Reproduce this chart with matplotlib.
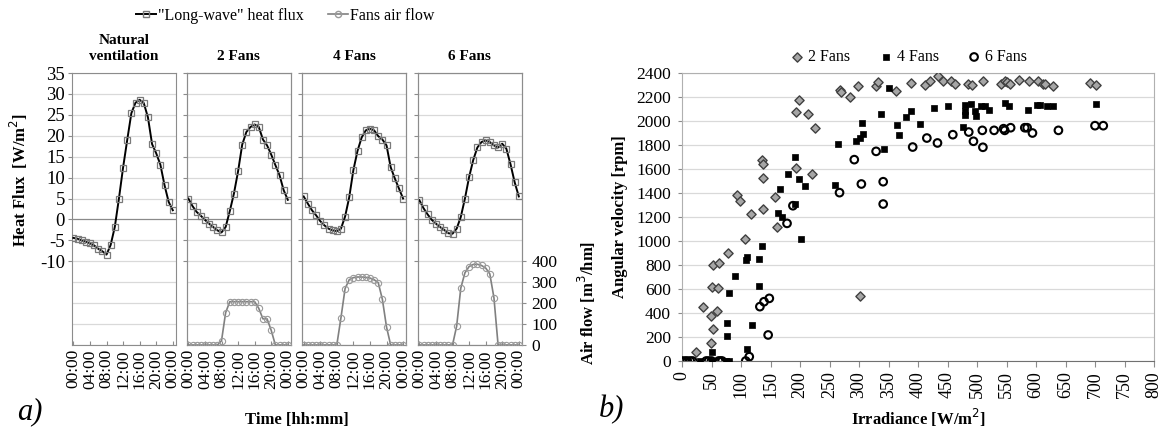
import matplotlib.pyplot as plt
from matplotlib.lines import Line2D

plt.rcParams['font.family'] = ['Liberation Serif', 'DejaVu Serif']
plt.rcParams['font.size'] = 11

# ---- panel a) : hourly heat flux and fan air flow ----
hours = list(range(25))
hour_ticks = [0, 4, 8, 12, 16, 20, 24]
hour_labels = ['00:00', '04:00', '08:00', '12:00', '16:00', '20:00', '00:00']
panel_titles = ['Natural\nventilation', '2 Fans', '4 Fans', '6 Fans']

flux_natural = [-4.4, -4.6, -5.0, -5.3, -5.7, -6.2, -7.0, -7.6, -8.4, -6.1, -1.8, 5.0, 12.4,
                19.0, 25.4, 27.9, 28.6, 27.8, 24.4, 18.0, 15.8, 13.1, 8.2, 4.2, 2.2]
flux_2fans = [5.0, 3.2, 1.8, 0.9, -0.1, -1.0, -1.8, -2.6, -3.1, -1.8, 2.0, 6.2, 11.5,
              17.9, 20.9, 22.1, 22.7, 22.1, 19.1, 17.7, 15.5, 13.0, 10.6, 7.0, 4.7]
flux_4fans = [5.5, 3.8, 2.2, 1.0, -0.4, -1.4, -2.2, -2.6, -2.8, -2.2, 0.7, 5.3, 11.8,
              16.4, 19.6, 21.3, 21.7, 21.3, 19.9, 19.1, 17.7, 12.5, 9.8, 7.4, 5.0]
flux_6fans = [4.6, 2.7, 1.2, -0.1, -1.0, -1.8, -2.5, -3.3, -3.4, -2.2, 0.6, 5.0, 10.1,
              14.2, 17.2, 18.5, 18.9, 18.5, 17.7, 17.2, 18.1, 16.9, 13.2, 8.9, 5.5]

air_2fans = [0, 0, 0, 0, 0, 0, 0, 0, 20, 155, 207, 207, 207, 207, 207, 207, 207,
             175, 125, 125, 70, 0, 0, 0, 0]
air_4fans = [0, 0, 0, 0, 0, 0, 0, 0, 0, 130, 270, 312, 322, 325, 325, 323, 320,
             312, 298, 218, 86, 0, 0, 0, 0]
air_6fans = [0, 0, 0, 0, 0, 0, 0, 0, 0, 90, 272, 345, 375, 385, 386, 380, 368,
             340, 226, 0, 0, 0, 0, 0, 0]

flux_all = [flux_natural, flux_2fans, flux_4fans, flux_6fans]
air_all = [None, air_2fans, air_4fans, air_6fans]

# ---- panel b) : angular velocity vs irradiance ----
irr_2 = [24, 36, 49, 49, 59, 53, 50, 61, 53, 63, 78, 94, 98, 107, 117, 138, 158, 161, 302,
         135, 138, 138, 194, 221, 193, 199, 213, 226, 268, 270, 284, 299, 328, 332, 362,
         388, 412, 421, 434, 443, 456, 462, 485, 492, 511, 540, 547, 551, 556, 571, 588,
         604, 612, 616, 629, 692, 701]
rpm_2 = [78, 447, 153, 378, 419, 264, 617, 608, 803, 819, 897, 1383, 1336, 1019, 1228, 1269,
         1364, 1119, 542, 1678, 1644, 1528, 1611, 1556, 2072, 2178, 2061, 1944, 2261, 2242,
         2200, 2289, 2292, 2322, 2253, 2317, 2297, 2331, 2372, 2333, 2331, 2311, 2311, 2297,
         2331, 2306, 2333, 2322, 2306, 2344, 2333, 2333, 2311, 2306, 2292, 2317, 2297]

irr_4 = [30, 50, 75, 80, 50, 76, 77, 80, 89, 109, 111, 111, 119, 130, 130, 136, 166, 163,
         169, 191, 201, 191, 180, 199, 209, 259, 264, 295, 302, 305, 306, 338, 342, 351,
         367, 364, 379, 388, 403, 427, 450, 476, 480, 480, 480, 489, 496, 499, 507, 513,
         521, 547, 554, 587, 602, 607, 619, 628, 701]
rpm_4 = [0, 0, 0, 0, 78, 314, 208, 564, 711, 842, 864, 97, 300, 850, 625, 961, 1431, 1231,
         1203, 1308, 1017, 1700, 1556, 1514, 1458, 1464, 1811, 1833, 1861, 1983, 1894, 2061,
         1769, 2278, 1881, 1964, 2033, 2083, 1972, 2111, 2122, 1950, 2136, 2083, 2047, 2139,
         2083, 2039, 2122, 2122, 2094, 2150, 2122, 2094, 2136, 2131, 2125, 2125, 2139]

irr_6 = [0, 5, 9, 14, 18, 41, 45, 50, 62, 65, 68, 108, 114, 132, 139, 148, 146, 178, 188,
         267, 304, 341, 341, 292, 329, 391, 415, 433, 459, 486, 494, 510, 509, 529, 545,
         547, 557, 581, 585, 594, 638, 700, 714]
rpm_6 = [0, 0, 0, 0, 0, 0, 0, 0, 0, 0, 0, 0, 36, 453, 494, 522, 217, 1147, 1294,
         1403, 1475, 1308, 1494, 1678, 1747, 1783, 1858, 1817, 1886, 1908, 1831, 1781, 1922,
         1922, 1936, 1922, 1944, 1944, 1944, 1900, 1922, 1961, 1961]

fig = plt.figure(figsize=(11.7, 4.33), dpi=100)

W, H = 1170.0, 433.0
panel_left = [71.7, 186.7, 302.0, 417.7]
panel_w = 104.0
top_px, bottom_px = 73.0, 345.0
spine_col = '#8c8c8c'

for i in range(4):
    ax = fig.add_axes([panel_left[i] / W, 1 - bottom_px / H, panel_w / W, (bottom_px - top_px) / H])
    for y in range(-30, 40, 5):
        ax.axhline(y, color='#8a8a8a' if y == 0 else '#d9d9d9', lw=0.9, zorder=0)
    ax.plot(hours, flux_all[i], color='black', lw=1.4, marker='s', ms=5,
            mfc='none', mec='#7a7a7a', mew=0.9, zorder=3)
    ax.set_xlim(-0.4, 24.7)
    ax.set_ylim(-30, 35)
    ax.set_xticks(hour_ticks)
    ax.set_xticklabels(hour_labels, rotation=90, fontsize=12.5)
    ax.set_yticks(range(-10, 40, 5))
    if i == 0:
        ax.set_yticklabels([str(v) for v in range(-10, 40, 5)], fontsize=13.5)
    else:
        ax.set_yticklabels([])
        ax.tick_params(axis='y', length=0)
    ax.tick_params(axis='x', direction='in', length=3, color=spine_col, pad=3)
    ax.tick_params(axis='y', direction='out', length=3, color=spine_col, pad=2)
    for s in ax.spines.values():
        s.set_color(spine_col)
    ax.set_title(panel_titles[i], fontweight='bold', fontsize=11, pad=9, linespacing=1.3)

    if air_all[i] is not None:
        ax2 = ax.twinx()
        ax2.plot(hours, air_all[i], color='#808080', lw=1.2, marker='o', ms=4.5,
                 mfc='none', mec='#9a9a9a', mew=0.8, zorder=3)
        ax2.set_ylim(0, 1300)
        ax2.set_yticks([0, 100, 200, 300, 400])
        for s in ax2.spines.values():
            s.set_color(spine_col)
        if i == 3:
            ax2.tick_params(axis='y', direction='out', length=3, color=spine_col, labelsize=12.5, pad=4)
            ax2.set_ylabel('Air flow [m$^3$/hm]', fontweight='bold', fontsize=12)
            ax2.yaxis.set_label_coords(1.52, 0.154)
        else:
            ax2.set_yticklabels([])
            ax2.tick_params(axis='y', length=0)
    if i == 0:
        ax.set_ylabel('Heat Flux  [W/m$^2$]', fontweight='bold', fontsize=12)
        ax.yaxis.set_label_coords(-0.40, 0.607)

fig.text(297 / W, 1 - 420 / H, 'Time [hh:mm]', ha='center', va='center', fontweight='bold', fontsize=12)
fig.text(30 / W, 1 - 412 / H, 'a)', ha='center', va='center', style='italic', fontsize=22)

legend_handles = [
    Line2D([], [], color='black', lw=1.4, marker='s', ms=5, mfc='none', mec='#7a7a7a'),
    Line2D([], [], color='#808080', lw=1.2, marker='o', ms=4.5, mfc='none', mec='#9a9a9a'),
]
fig.legend(legend_handles, ['"Long-wave" heat flux', 'Fans air flow'], loc='center',
           bbox_to_anchor=(285 / W, 1 - 16 / H), ncol=2, frameon=False, fontsize=11.5,
           handlelength=1.3, handletextpad=0.1, columnspacing=1.5)

# ---- panel b ----
bx = fig.add_axes([682 / W, 1 - 361 / H, 472 / W, 288 / H])
bx.set_axisbelow(True)
bx.grid(axis='y', color='#d9d9d9', lw=0.9)
bx.scatter(irr_2, rpm_2, marker='D', s=22, facecolor='#a6a6a6', edgecolor='#404040',
           linewidths=1.0, label='2 Fans', zorder=3)
bx.scatter(irr_4, rpm_4, marker='s', s=20, facecolor='black', edgecolor='black',
           linewidths=0.5, label='4 Fans', zorder=3)
bx.scatter(irr_6, rpm_6, marker='o', s=30, facecolor='none', edgecolor='black',
           linewidths=1.5, label='6 Fans', zorder=3)
bx.set_xlim(0, 800)
bx.set_ylim(0, 2400)
bx.set_xticks(range(0, 801, 50))
bx.set_xticklabels([str(v) for v in range(0, 801, 50)], rotation=90, fontsize=13)
bx.set_yticks(range(0, 2401, 200))
bx.tick_params(axis='y', labelsize=12.5, length=3, color=spine_col, pad=5)
bx.tick_params(axis='x', length=4, color=spine_col)
for s in bx.spines.values():
    s.set_color('#b0b0b0')
bx.spines['bottom'].set_color('#707070')
bx.set_ylabel('Angular velocity [rpm]', fontweight='bold', fontsize=12, labelpad=6)
bx.set_xlabel('Irradiance [W/m$^2$]', fontweight='bold', fontsize=12, labelpad=6)
bx.legend(loc='center', bbox_to_anchor=(0.481, 1.055), ncol=3, frameon=False, fontsize=11.5,
          handlelength=0.8, handletextpad=0.3, columnspacing=1.8, borderaxespad=0)
fig.text(612 / W, 1 - 410 / H, 'b)', ha='center', va='center', style='italic', fontsize=22)

fig.savefig('out.png', dpi=100)
